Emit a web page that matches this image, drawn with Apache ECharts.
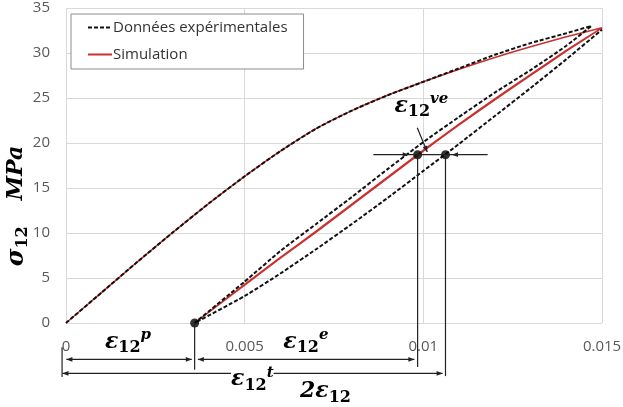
<!DOCTYPE html>
<html>
<head>
<meta charset="utf-8">
<script src="https://cdn.jsdelivr.net/npm/echarts@6/dist/echarts.min.js"></script>
<style>
  html, body { margin: 0; padding: 0; background: #fff; }
  #chart { width: 623px; height: 407px; }
</style>
</head>
<body>
<div id="chart"></div>
<script>
// ---- data (strain, MPa) ----
const loadStrain = [0, 0.001, 0.002, 0.003, 0.004, 0.005, 0.006, 0.007, 0.008, 0.009, 0.010, 0.011, 0.012, 0.013, 0.014]
const expLoadStress = [0, 3.4, 6.8, 10.1, 13.3, 16.3, 19.1, 21.6, 23.6, 25.3, 26.8, 28.3, 29.8, 31.1, 32.2]
const simLoadStress = [0, 3.4, 6.8, 10.1, 13.3, 16.3, 19.1, 21.6, 23.6, 25.3, 26.8, 28.2, 29.5, 30.7, 31.8]

const expPeak = [0.0147, 33.0]
const simPeak = [0.015, 32.8]

// cycle branches, from the plastic offset up to the peak
const cycleStrain = [0.0036, 0.005, 0.006, 0.007, 0.008, 0.009, 0.010, 0.011, 0.012, 0.013, 0.014]
const expUnloadStress = [0, 4.6, 8.0, 11.0, 14.0, 17.1, 20.1, 22.9, 25.6, 28.1, 30.8]
const expReloadStress = [0, 3.0, 5.5, 8.2, 11.0, 13.9, 16.9, 19.9, 23.0, 26.1, 29.3]
const expReloadEnd = [0.015, 32.6]
const simUnloadStress = [0, 4.3, 7.3, 10.2, 13.2, 16.2, 19.2, 22.1, 24.9, 27.6, 30.3]
const simReloadStress = [0, 4.2, 7.2, 10.1, 13.1, 16.1, 19.1, 22.0, 24.8, 27.5, 30.2]

const xTickLabels = ['0', '0.005', '0.01', '0.015']
const yTickLabels = ['0', '5', '10', '15', '20', '25', '30', '35']

// annotation anchors (data units)
const dotStrain = [0.0036, 0.00984, 0.01062]
const dotStress = [0, 18.7, 18.7]

const pairs = (xs, ys) => xs.map((x, i) => [x, ys[i]])

const expPath = [
  ...pairs(loadStrain, expLoadStress), expPeak,
  ...pairs(cycleStrain, expUnloadStress).reverse(),
  ...pairs(cycleStrain, expReloadStress).slice(1), expReloadEnd
]
const simPath = [
  ...pairs(loadStrain, simLoadStress), simPeak,
  ...pairs(cycleStrain, simUnloadStress).reverse(),
  ...pairs(cycleStrain, simReloadStress).slice(1), simPeak
]

const chart = echarts.init(document.getElementById('chart'))

const axisFont = { color: '#595959', fontSize: 15, fontFamily: 'Open Sans' }
const mathFont = 'DejaVu Serif'

chart.setOption({
  animation: false,
  grid: { left: 66, top: 8, right: 21, bottom: 84, outerBoundsMode: 'none' },
  legend: {
    data: ['Données expérimentales', 'Simulation'],
    orient: 'vertical',
    left: 71,
    top: 14,
    padding: [6, 16, 7, 16],
    itemGap: 12,
    itemWidth: 24,
    itemHeight: 14,
    borderColor: '#8c8c8c',
    borderWidth: 1,
    backgroundColor: '#fff',
    itemStyle: { opacity: 0 },
    textStyle: { color: '#333', fontSize: 15, fontFamily: 'Open Sans', padding: [0, 0, 0, -4] }
  },
  xAxis: {
    type: 'value',
    min: 0,
    max: 0.015,
    interval: 0.005,
    axisLine: { show: false },
    axisTick: { show: false },
    splitLine: { lineStyle: { color: '#d9d9d9', width: 1 } },
    axisLabel: {
      ...axisFont,
      margin: 16,
      formatter: (v) => xTickLabels[Math.round(v / 0.005)]
    }
  },
  yAxis: {
    type: 'value',
    min: 0,
    max: 35,
    interval: 5,
    axisLine: { show: false },
    axisTick: { show: false },
    splitLine: { lineStyle: { color: '#d9d9d9', width: 1 } },
    axisLabel: {
      ...axisFont,
      margin: 16,
      formatter: (v) => yTickLabels[Math.round(v / 5)]
    }
  },
  series: [
    {
      name: 'Simulation',
      type: 'line',
      data: simPath,
      symbol: 'none',
      smooth: 0.2,
      lineStyle: { color: '#c8312f', width: 1.5 },
      itemStyle: { color: '#c8312f' }
    },
    {
      name: 'Données expérimentales',
      type: 'line',
      data: expPath,
      symbol: 'none',
      smooth: 0.2,
      lineStyle: { color: '#111', width: 2, type: [4, 2] },
      itemStyle: { color: '#111' }
    },
    {
      name: 'points',
      type: 'scatter',
      data: pairs(dotStrain, dotStress),
      symbolSize: 9,
      itemStyle: { color: '#000' },
      z: 5,
      clip: false
    }
  ]
})

// ---- annotations (dimension arrows and labels), anchored in data units ----
const px = (p) => chart.convertToPixel({ gridIndex: 0 }, p)
const annoColor = '#222'
const graphics = []

function seg(a, b) {
  const p = px(a), q = px(b)
  graphics.push({
    type: 'line', z: 10,
    shape: { x1: p[0], y1: p[1], x2: q[0], y2: q[1] },
    style: { stroke: annoColor, lineWidth: 1.2 }
  })
}
function head(tip, from) {
  const t = px(tip), f = px(from)
  const dx = t[0] - f[0], dy = t[1] - f[1]
  const len = Math.hypot(dx, dy) || 1
  const ux = dx / len, uy = dy / len
  const bx = t[0] - ux * 6, by = t[1] - uy * 6
  graphics.push({
    type: 'polygon', z: 10,
    shape: { points: [[t[0], t[1]], [bx - uy * 2.4, by + ux * 2.4], [bx + uy * 2.4, by - ux * 2.4]] },
    style: { fill: annoColor }
  })
}
function arrow(a, b, both) {
  seg(a, b)
  head(b, a)
  if (both) head(a, b)
}

// drops from the marked points down below the axis
seg([dotStrain[0], dotStress[0]], [dotStrain[0], -5.2])
seg([dotStrain[1], dotStress[1]], [dotStrain[1], -4.9])
seg([dotStrain[2], dotStress[2]], [dotStrain[2], -5.9])
seg([-0.00011, -2.7], [-0.00011, -6.0])

// epsilon p and e
arrow([0.00001, -4.05], [0.00352, -4.05], true)
arrow([0.00369, -4.05], [0.00975, -4.05], true)
// epsilon t / 2 epsilon
arrow([-0.0001, -5.6], [0.01054, -5.6], true)

// ve marker at sigma = 18.7
seg([0.0086, 18.7], [0.0118, 18.7])
head([0.00959, 18.7], [0.0086, 18.7])
head([0.0108, 18.7], [0.0118, 18.7])
arrow([0.00983, 21.7], [0.01011, 19.0], false)

const mathRich = {
  e: { fontFamily: mathFont, fontStyle: 'italic', fontWeight: 'bold', fontSize: 22, color: '#111' },
  s: { fontFamily: mathFont, fontWeight: 'bold', fontSize: 16, color: '#111', padding: [12, 0, 0, 0] },
  u: { fontFamily: mathFont, fontStyle: 'italic', fontWeight: 'bold', fontSize: 15, color: '#111', padding: [0, 0, 14, 0] },
  g: { fontFamily: mathFont, fontStyle: 'italic', fontWeight: 'bold', fontSize: 24, color: '#111' },
  m: { fontFamily: mathFont, fontStyle: 'italic', fontWeight: 'bold', fontSize: 22, color: '#111', padding: [0, 0, 0, 26] }
}
function mathText(at, str, bg, rot) {
  const p = px(at)
  graphics.push({
    type: 'text', z: 12,
    x: p[0], y: p[1],
    rotation: rot || 0,
    style: {
      text: str,
      rich: mathRich,
      align: rot ? 'center' : 'left',
      verticalAlign: 'middle',
      backgroundColor: bg || 'transparent'
    }
  })
}
mathText([0.00109, -2.1], '{e|ε}{s|12}{u|p}')
mathText([0.00608, -2.1], '{e|ε}{s|12}{u|e}')
mathText([0.00462, -6.3], '{e|ε}{s|12}{u|t}', '#fff')
mathText([0.00655, -7.6], '{e|2ε}{s|12}')
mathText([0.00919, 24.1], '{e|ε}{s|12}{u|ve}')
// y axis title
mathText([-0.00138, 13.0], '{g|σ}{s|12}{m|MPa}', null, Math.PI / 2)

chart.setOption({ graphic: graphics })
</script>
</body>
</html>
